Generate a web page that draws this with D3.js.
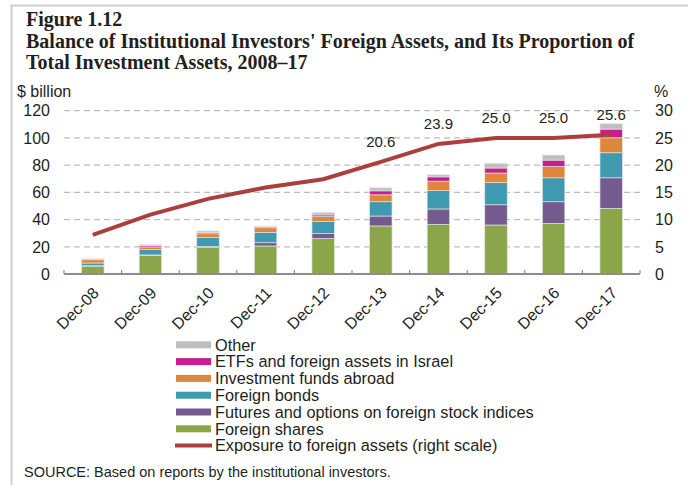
<!DOCTYPE html>
<meta charset="utf-8">
<script src="https://d3js.org/d3.v7.min.js"></script>
<style>
  body { margin: 0; background: #fff; }
  text { font-family: "Liberation Sans", Arial, sans-serif; fill: #231f20; }
</style>
<div id="chart"></div>
<script>
// data ($ billion, and % for the line)
var categories = ["Dec-08", "Dec-09", "Dec-10", "Dec-11", "Dec-12", "Dec-13", "Dec-14", "Dec-15", "Dec-16", "Dec-17"];
var foreignShares = [5.8, 13.7, 19.4, 20.6, 26.0, 35.3, 36.5, 36.0, 37.2, 48.2];
var futuresOptions = [0.3, 0.3, 0.8, 2.4, 3.7, 7.3, 11.3, 14.9, 15.9, 22.5];
var foreignBonds = [2.0, 3.9, 6.5, 7.6, 8.8, 10.5, 13.5, 16.2, 17.6, 18.4];
var investmentFunds = [2.4, 2.0, 2.9, 3.4, 3.7, 5.1, 6.9, 7.1, 8.3, 11.0];
var etfsIsrael = [0.2, 1.0, 1.0, 0.7, 1.2, 2.9, 3.2, 3.7, 4.7, 6.4];
var other = [0.4, 0.7, 1.0, 0.5, 1.7, 2.2, 1.5, 3.4, 3.7, 3.9];
var exposure = [7.2, 10.9, 13.8, 15.9, 17.4, 20.6, 23.9, 25.0, 25.0, 25.6];
var leftTicks = [0, 20, 40, 60, 80, 100, 120];
var rightTicks = [0, 5, 10, 15, 20, 25, 30];

var series = [
  {key: "shares", name: "Foreign shares", values: foreignShares, color: "#8aa54a"},
  {key: "futures", name: "Futures and options on foreign stock indices", values: futuresOptions, color: "#745a8f"},
  {key: "bonds", name: "Foreign bonds", values: foreignBonds, color: "#3f99b0"},
  {key: "funds", name: "Investment funds abroad", values: investmentFunds, color: "#e0863b"},
  {key: "etfs", name: "ETFs and foreign assets in Israel", values: etfsIsrael, color: "#c81d8f"},
  {key: "other", name: "Other", values: other, color: "#bfbfbf"}
];
var lineColor = "#ac3f3b";

var width = 688, height = 485;
var plot = {left: 64, right: 640, top: 110.7, bottom: 274};

var svg = d3.select("#chart").append("svg")
  .attr("width", width)
  .attr("height", height);

// frame
svg.append("path")
  .attr("d", "M11.5," + height + "V5.5H" + width)
  .attr("fill", "none")
  .attr("stroke", "#cfcfcf")
  .attr("stroke-width", 2);

// title
var title = ["Figure 1.12",
  "Balance of Institutional Investors' Foreign Assets, and Its Proportion of",
  "Total Investment Assets, 2008\u201317"];
svg.append("g").selectAll("text")
  .data(title)
  .enter().append("text")
    .attr("x", 26)
    .attr("y", function(d, i) { return 26 + i * 21.5; })
    .style("font-family", "'Liberation Serif', 'Times New Roman', serif")
    .style("font-weight", "bold")
    .style("font-size", "20px")
    .text(function(d) { return d; });

// scales
var x = d3.scaleBand()
  .domain(categories)
  .range([plot.left, plot.right])
  .paddingInner(0.61)
  .paddingOuter(0.305);

var y = d3.scaleLinear()
  .domain([0, 120])
  .range([plot.bottom, plot.top]);

var y2 = d3.scaleLinear()
  .domain([0, 30])
  .range([plot.bottom, plot.top]);

// grid
svg.append("g").selectAll("line")
  .data(leftTicks.filter(function(d) { return d > 0; }))
  .enter().append("line")
    .attr("x1", plot.left)
    .attr("x2", plot.right)
    .attr("y1", function(d) { return y(d); })
    .attr("y2", function(d) { return y(d); })
    .attr("stroke", "#bdbdbd")
    .attr("stroke-width", 1.3)
    .attr("stroke-dasharray", "6,4");

// axis labels
svg.append("g").selectAll("text")
  .data(leftTicks)
  .enter().append("text")
    .attr("x", 50)
    .attr("y", function(d) { return y(d); })
    .attr("dy", "0.36em")
    .attr("text-anchor", "end")
    .style("font-size", "16px")
    .text(function(d) { return d; });

svg.append("g").selectAll("text")
  .data(rightTicks)
  .enter().append("text")
    .attr("x", 655)
    .attr("y", function(d) { return y2(d); })
    .attr("dy", "0.36em")
    .style("font-size", "16px")
    .text(function(d) { return d; });

svg.append("text").attr("x", 17).attr("y", 97).style("font-size", "16px").text("$ billion");
svg.append("text").attr("x", 654).attr("y", 97).style("font-size", "16px").text("%");

// stacked bars
var rows = categories.map(function(c, i) {
  var r = {cat: c};
  series.forEach(function(s) { r[s.key] = s.values[i]; });
  return r;
});
var stacked = d3.stack().keys(series.map(function(s) { return s.key; }))(rows);

svg.append("g").selectAll("g")
  .data(stacked)
  .enter().append("g")
    .attr("fill", function(d, i) { return series[i].color; })
  .selectAll("rect")
  .data(function(d) { return d; })
  .enter().append("rect")
    .attr("x", function(d) { return x(d.data.cat); })
    .attr("width", x.bandwidth())
    .attr("y", function(d) { return y(d[1]); })
    .attr("height", function(d) { return y(d[0]) - y(d[1]); })
    .attr("stroke", "#e2e2e2")
    .attr("stroke-width", 0.7);

// x axis
svg.append("line")
  .attr("x1", plot.left).attr("x2", plot.right)
  .attr("y1", plot.bottom).attr("y2", plot.bottom)
  .attr("stroke", "#8c8c8c")
  .attr("stroke-width", 2);

var bounds = categories.map(function(c) { return x(c) - x.step() * x.paddingInner() / 2; });
bounds.push(plot.right);
svg.append("g").selectAll("line")
  .data(bounds)
  .enter().append("line")
    .attr("x1", function(d) { return d; })
    .attr("x2", function(d) { return d; })
    .attr("y1", plot.bottom)
    .attr("y2", plot.bottom - 4)
    .attr("stroke", "#8c8c8c")
    .attr("stroke-width", 1.2);

svg.append("g").selectAll("text")
  .data(categories)
  .enter().append("text")
    .attr("transform", function(d) {
      return "translate(" + (x(d) + x.bandwidth() / 2 - 1) + "," + (plot.bottom + 12) + ") rotate(-45)";
    })
    .attr("text-anchor", "end")
    .attr("dy", "0.71em")
    .style("font-size", "16px")
    .text(function(d) { return d; });

// exposure line
var line = d3.line()
  .x(function(d, i) { return x(categories[i]) + x.bandwidth() / 2; })
  .y(function(d) { return y2(d); });

svg.append("path")
  .datum(exposure)
  .attr("d", line)
  .attr("fill", "none")
  .attr("stroke", lineColor)
  .attr("stroke-width", 4);

svg.append("g").selectAll("text")
  .data(exposure.map(function(v, i) { return {v: v, c: categories[i]}; }).slice(5))
  .enter().append("text")
    .attr("x", function(d) { return x(d.c) + x.bandwidth() / 2; })
    .attr("y", function(d) { return y2(d.v) - 20; })
    .attr("dy", "0.36em")
    .attr("text-anchor", "middle")
    .style("font-size", "15px")
    .text(function(d) { return d3.format(".1f")(d.v); });

// legend
var legendItems = series.slice().reverse();
var legend = svg.append("g");
legendItems.forEach(function(s, i) {
  var cy = 344.8 + i * 16.8;
  legend.append("rect")
    .attr("x", 176).attr("y", cy - 3.5)
    .attr("width", 35).attr("height", 7)
    .attr("fill", s.color);
  legend.append("text")
    .attr("x", 215).attr("y", cy)
    .attr("dy", "0.36em")
    .style("font-size", "16.3px")
    .text(s.name);
});
var ly = 344.8 + 6 * 16.8;
legend.append("line")
  .attr("x1", 175).attr("x2", 212)
  .attr("y1", ly).attr("y2", ly)
  .attr("stroke", lineColor)
  .attr("stroke-width", 4);
legend.append("text")
  .attr("x", 215).attr("y", ly)
  .attr("dy", "0.36em")
  .style("font-size", "16.3px")
  .text("Exposure to foreign assets (right scale)");

// source
svg.append("text")
  .attr("x", 24).attr("y", 477)
  .style("font-size", "14.5px")
  .text("SOURCE: Based on reports by the institutional investors.");
</script>
